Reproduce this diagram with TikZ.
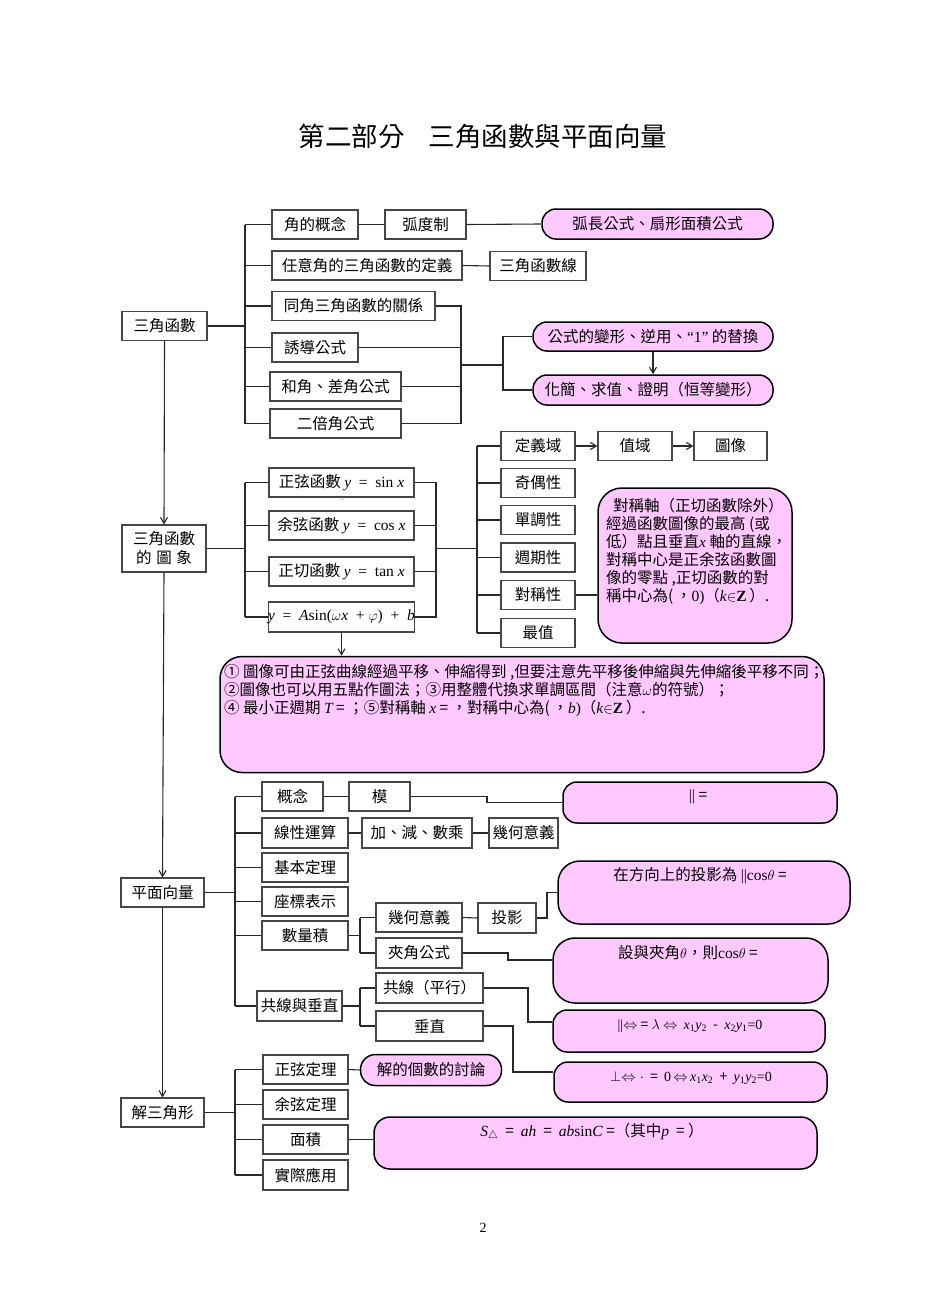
\documentclass[tikz,border=0pt]{standalone}
\usepackage{fontspec}
\setmainfont{Liberation Serif}
\newfontfamily\cjk{Noto Sans CJK TC}
\usetikzlibrary{arrows.meta}
\definecolor{pinkc}{RGB}{255,200,255}
\definecolor{boxc}{RGB}{70,70,70}
\definecolor{linec}{RGB}{40,40,40}
\newcommand{\mv}[1]{{\rmfamily\itshape #1}}
\newcommand{\mr}[1]{{\rmfamily #1}}
\newcommand{\sbs}[1]{{\rmfamily\textsubscript{#1}}}
\begin{document}
\begin{tikzpicture}[x=1pt,y=-1pt,
  bx/.style={draw=boxc, line width=1.1pt, fill=white, inner sep=0pt, minimum height=29pt, font=\cjk\fontsize{15.5}{18}\selectfont},
  pk/.style={draw=black, line width=1.5pt, fill=pinkc, inner sep=0pt, font=\cjk\fontsize{15.5}{18}\selectfont},
  ln/.style={draw=linec, line width=1.1pt},
  ar/.style={ln, -{Straight Barb[length=6pt,width=7pt]}},
  tx/.style={inner sep=0pt, font=\cjk\fontsize{15.5}{18}\selectfont},
  sm/.style={inner sep=0pt, font=\cjk\fontsize{14}{16}\selectfont},
]
\useasboundingbox (0,0) rectangle (950,1316);
\fill[white] (0,0) rectangle (950,1316);

% title
\node[inner sep=0pt, font=\cjk\fontsize{26.5}{30}\selectfont] (title) at (483,136) {第二部分\hspace{0.9em}三角函數與平面向量};

%================ section 1
\node[bx,minimum width=85pt] (sj) at (164.5,326) {三角函數};
\node[bx,minimum width=86pt] (jgn) at (315,224.5) {角的概念};
\node[bx,minimum width=81pt] (hdz) at (425.5,224.5) {弧度制};
\node[pk,minimum width=231pt,minimum height=30pt,rounded corners=14pt] (hcg) at (657.5,224) {弧長公式、扇形面積公式};
\node[bx,minimum width=190pt] (ryj) at (367,265.5) {任意角的三角函數的定義};
\node[bx,minimum width=96pt] (sjx) at (538,266) {三角函數線};
\node[bx,minimum width=163pt] (tj) at (353.5,306) {同角三角函數的關係};
\node[bx,minimum width=86pt] (yd) at (315,347.5) {誘導公式};
\node[bx,minimum width=131pt] (hc) at (335.5,386.5) {和角、差角公式};
\node[bx,minimum width=131pt] (eb) at (335.5,423.5) {二倍角公式};
\node[pk,minimum width=240pt,minimum height=29pt,rounded corners=14pt] (gs) at (653,336.5) {公式的變形、逆用、{\rmfamily “1”} 的替換};
\node[pk,minimum width=240pt,minimum height=30pt,rounded corners=14pt] (hj) at (653,390) {化簡、求值、證明（恒等變形）};

\coordinate (s1) at (245,326);
\draw[ln] (sj.east) -- (s1);
\draw[ln] (s1 |- jgn.west) -- (s1 |- eb.west);
\foreach \n in {jgn,ryj,tj,yd,hc,eb} \draw[ln] (s1 |- \n.west) -- (\n.west);
\draw[ln] (jgn.east) -- (hdz.west);
\draw[ln] (hdz.east) -- (hcg.west);
\draw[ln] (ryj.east) -- (sjx.west);
\coordinate (r1) at (461,365);
\coordinate (r2) at (503,365);
\draw[ln] (tj.east) -| (r1 |- eb.east) -- (eb.east);
\draw[ln] (yd.east) -- (r1 |- yd.east);
\draw[ln] (hc.east) -- (r1 |- hc.east);
\draw[ln] (r1) -- (r2);
\draw[ln] (gs.west) -| (r2) |- (hj.west);
\draw[ar] (gs.south) -- (hj.north);

%================ section 2
\node[bx,minimum width=84pt,minimum height=47pt,align=center,font=\cjk\fontsize{15.5}{19}\selectfont] (tx) at (164,548.5) {三角函數\\的\hspace{0.3em}圖\hspace{0.3em}象};
\node[bx,minimum width=145pt,minimum height=29pt] (f1) at (341.5,482.5) {正弦函數 \mv{y}\mr{\ \ =\ \ sin }\mv{x}};
\node[inner sep=0pt,text=gray,font=\fontsize{7}{8}\selectfont] (eqm) at (342,499.5) {=};
\node[bx,minimum width=145pt,minimum height=29pt] (f2) at (341.5,525.5) {余弦函數 \mv{y}\mr{\ \ =\ \ cos }\mv{x}};
\node[bx,minimum width=145pt,minimum height=29pt] (f3) at (341.5,571.5) {正切函數 \mv{y}\mr{\ \ =\ \ tan }\mv{x}};
\node[bx,minimum width=145pt,minimum height=30pt] (f4) at (341.5,617) {\mv{y}\mr{\ \ =\ \ }\mv{A}\mr{sin(}$\omega$\mv{x}\mr{\ \ +\ }$\varphi$\mr{)\ \ +\ \ }\mv{b}};

\coordinate (s2) at (245,548.5);
\draw[ln] (tx.east) -- (s2);
\draw[ln] (s2 |- f1.west) -- (s2 |- f4.west);
\foreach \n in {f1,f2,f3,f4} \draw[ln] (s2 |- \n.west) -- (\n.west);
\coordinate (r3) at (436,548.5);
\coordinate (r4) at (477,548.5);
\draw[ln] (f1.east) -| (r3 |- f4.east) -- (f4.east);
\draw[ln] (f2.east) -- (r3 |- f2.east);
\draw[ln] (f3.east) -- (r3 |- f3.east);
\draw[ln] (r3) -- (r4);

\node[bx,minimum width=74pt] (dy) at (538,446) {定義域};
\node[bx,minimum width=74pt] (jo) at (538,483) {奇偶性};
\node[bx,minimum width=74pt] (dd) at (538,520) {單調性};
\node[bx,minimum width=74pt] (zq) at (538,557.5) {週期性};
\node[bx,minimum width=74pt] (dc) at (538,595) {對稱性};
\node[bx,minimum width=74pt] (zz) at (538,633) {最值};
\node[bx,minimum width=74pt] (zy) at (635,446) {值域};
\node[bx,minimum width=73pt] (tu) at (730.5,446) {圖像};
\draw[ln] (r4 |- dy.west) -- (r4 |- zz.west);
\foreach \n in {dy,jo,dd,zq,dc,zz} \draw[ln] (r4 |- \n.west) -- (\n.west);
\draw[ar] (dy.east) -- (zy.west);
\draw[ar] (zy.east) -- (tu.west);

\node[pk,minimum width=194pt,minimum height=155pt,rounded corners=24pt] (symb) at (695,565.5) {};
\node[tx,anchor=north west,align=left] (symt) at (606,498) {\hspace*{7pt}對稱軸（正切函數除外）\\經過函數圖像的最高 (或\\低）點且垂直\mv{x} 軸的直線，\\對稱中心是正余弦函數圖\\像的零點 ,正切函數的對\\稱中心為(\,，\mr{0)}（\mv{k}$\in$\mr{\bfseries Z}\,）.};
\draw[ln] (dc.east) -- (symb.west |- dc.east);

\node[pk,minimum width=604pt,minimum height=116pt,rounded corners=22pt] (big) at (522,714.5) {};
\node[tx,anchor=north west,align=left] (bigt) at (224,664) {① 圖像可由正弦曲線經過平移、伸縮得到 ,但要注意先平移後伸縮與先伸縮後平移不同；\\②圖像也可以用五點作圖法；③用整體代換求單調區間（注意$\omega$的符號）；\\④ 最小正週期 \mv{T} = ；⑤對稱軸 \mv{x} = ，對稱中心為(\,，\mv{b}\mr{)}（\mv{k}$\in$\mr{\bfseries Z}\,）.};
\draw[ar] (f4.south) -- (f4.south |- big.north);

\draw[ar] (sj.south) -- (tx.north);

%================ section 3
\node[bx,minimum width=83pt,minimum height=29pt] (pm) at (162.5,892.5) {平面向量};
\draw[ar] (tx.south) -- (pm.north);
\node[bx,minimum width=61pt,minimum height=29pt] (gn) at (292.5,796.5) {概念};
\node[bx,minimum width=61pt,minimum height=29pt] (mo) at (379.5,796.5) {模};
\node[pk,minimum width=274pt,minimum height=41pt,rounded corners=14pt] (mob) at (700,802.5) {};
\node[tx] (mobt) at (698,797) {\mr{||} =};
\node[bx,minimum width=86pt,minimum height=30pt] (xx) at (305,833) {線性運算};
\node[bx,minimum width=110pt,minimum height=30pt] (jj) at (417,833) {加、減、數乘};
\node[bx,minimum width=69pt,minimum height=30pt] (jh) at (523.5,833) {幾何意義};
\node[bx,minimum width=86pt,minimum height=29pt] (jb) at (305,867.5) {基本定理};
\node[bx,minimum width=86pt,minimum height=29pt] (zb) at (305,901.5) {座標表示};
\node[bx,minimum width=86pt,minimum height=29pt] (sl) at (305,935.5) {數量積};
\node[bx,minimum width=85pt,minimum height=30pt] (gx) at (299.5,1006) {共線與垂直};
\coordinate (s3) at (235,892.5);
\draw[ln] (pm.east) -- (s3);
\draw[ln] (s3 |- gn.west) -- (s3 |- gx.west);
\foreach \n in {gn,xx,jb,zb,sl,gx} \draw[ln] (s3 |- \n.west) -- (\n.west);
\draw[ln] (gn.east) -- (mo.west);
\coordinate (k0) at (487,796.5);
\draw[ln] (mo.east) -- (k0) |- (mob.west);
\draw[ln] (xx.east) -- (jj.west);
\draw[ln] (jj.east) -- (jh.west);

\node[bx,minimum width=86pt,minimum height=29pt] (jh2) at (419,917.5) {幾何意義};
\node[bx,minimum width=58pt,minimum height=30pt] (ty) at (507,918) {投影};
\node[bx,minimum width=86pt,minimum height=30pt] (jg) at (419,953) {夾角公式};
\coordinate (b5) at (360,935.5);
\draw[ln] (sl.east) -- (b5);
\draw[ln] (b5 |- jh2.west) -- (b5 |- jg.west);
\draw[ln] (b5 |- jh2.west) -- (jh2.west);
\draw[ln] (b5 |- jg.west) -- (jg.west);
\draw[ln] (jh2.east) -- (ty.west);
\node[pk,minimum width=292pt,minimum height=63pt,rounded corners=22pt] (tyb) at (704,892.5) {};
\node[tx] (tybt) at (700,876) {在方向上的投影為 \mr{||cos}$\theta$ =};
\coordinate (k1) at (547,918);
\draw[ln] (ty.east) -- (k1) |- (tyb.west);
\node[pk,minimum width=275pt,minimum height=65pt,rounded corners=22pt] (jgb) at (690.5,970.5) {};
\node[tx] (jgbt) at (688,953) {設與夾角$\theta$，則\mr{cos}$\theta$ =};
\coordinate (k2) at (508,953);
\coordinate (k2b) at (508,960);
\draw[ln] (jg.east) -- (k2) -- (k2b) -- (k2b -| jgb.west);

\node[bx,minimum width=107pt,minimum height=30pt] (gxp) at (429.5,988) {共線（平行）};
\node[bx,minimum width=107pt,minimum height=30pt] (cz) at (429.5,1026) {垂直};
\coordinate (b6) at (360,1006);
\draw[ln] (gx.east) -- (b6);
\draw[ln] (b6 |- gxp.west) -- (b6 |- cz.west);
\draw[ln] (b6 |- gxp.west) -- (gxp.west);
\draw[ln] (b6 |- cz.west) -- (cz.west);
\node[pk,minimum width=272pt,minimum height=42pt,rounded corners=14pt] (pxb) at (689,1031) {};
\node[sm] (pxbt) at (690,1026) {\mr{||}$\Leftrightarrow$ = $\lambda$ $\Leftrightarrow$\ \ \mv{x}\sbs{1}\mv{y}\sbs{2}\ \ -\ \ \mv{x}\sbs{2}\mv{y}\sbs{1}\mr{=0}};
\coordinate (k3) at (528,988);
\coordinate (k3b) at (528,1022);
\draw[ln] (gxp.east) -- (k3) -- (k3b) -- (k3b -| pxb.west);
\node[pk,minimum width=273pt,minimum height=40pt,rounded corners=14pt] (czb) at (690.5,1082) {};
\node[sm] (czbt) at (691,1078) {$\perp\Leftrightarrow\cdot$\ \ =\ \ \mr{0}\,$\Leftrightarrow$\,\mv{x}\sbs{1}\mv{x}\sbs{2}\ \ +\ \ \mv{y}\sbs{1}\mv{y}\sbs{2}\mr{=0}};
\coordinate (k4) at (513,1026);
\coordinate (k4b) at (513,1072);
\draw[ln] (cz.east) -- (k4) -- (k4b) -- (k4b -| czb.west);

%================ section 4
\node[bx,minimum width=83pt,minimum height=29pt] (js) at (162.5,1112.5) {解三角形};
\draw[ar] (pm.south) -- (js.north);
\node[bx,minimum width=85pt,minimum height=29pt] (zx) at (305.5,1069.5) {正弦定理};
\node[pk,minimum width=141pt,minimum height=31pt,rounded corners=15pt] (jd) at (431,1070) {解的個數的討論};
\node[bx,minimum width=85pt,minimum height=29pt] (yx) at (305.5,1104.5) {余弦定理};
\node[bx,minimum width=85pt,minimum height=29pt] (mj) at (305.5,1139.5) {面積};
\node[bx,minimum width=85pt,minimum height=30pt] (sy) at (305.5,1175) {實際應用};
\coordinate (s4) at (235,1112.5);
\draw[ln] (js.east) -- (s4);
\draw[ln] (s4 |- zx.west) -- (s4 |- sy.west);
\foreach \n in {zx,yx,mj,sy} \draw[ln] (s4 |- \n.west) -- (\n.west);
\draw[ln] (zx.east) -- (jd.west);
\node[pk,minimum width=443pt,minimum height=52pt,rounded corners=16pt] (sb) at (595.5,1143) {};
\node[tx] (sbt) at (592,1132) {\mv{S}$_{\triangle}$\ \ =\ \ \mv{ah}\ \ =\ \ \mv{ab}\mr{sin}\mv{C}\ =（其中\mv{p}\ \ =\ ）};
\draw[ln] (mj.east) -- (sb.west |- mj.east);

% page number
\node[inner sep=0pt,font=\fontsize{14}{16}\selectfont] (pg) at (483,1228) {2};
\end{tikzpicture}
\end{document}
